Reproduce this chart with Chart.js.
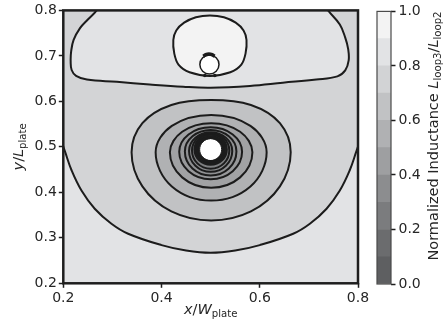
<!DOCTYPE html>
<html>
<head>
<meta charset="utf-8">
<script src="https://cdn.jsdelivr.net/npm/chart.js@4"></script>
<style>
  html, body { margin: 0; padding: 0; background: #fff; }
  #wrap { position: relative; width: 447px; height: 329px; }
  #wrap canvas { position: absolute; left: 0; top: 0; }
</style>
</head>
<body>
<div id="wrap">
  <canvas id="plot" width="447" height="329"></canvas>
  <canvas id="cbar" width="447" height="329"></canvas>
</div>
<script>

// tick labels
var xTicks = [0.2, 0.4, 0.6, 0.8];
var yTicks = [0.2, 0.3, 0.4, 0.5, 0.6, 0.7, 0.8];
var cbTicks = [0.0, 0.2, 0.4, 0.6, 0.8, 1.0];

// colour bar bands (normalized inductance levels)
var levels = [0.0, 0.1, 0.2, 0.3, 0.4, 0.5, 0.6, 0.7, 0.8, 0.9, 1.0];
var levelColors = ["#5e5f61", "#6b6c6e", "#7b7c7e", "#8c8d8f", "#9e9fa1",
                   "#b0b1b3", "#c1c2c4", "#d2d3d5", "#e2e3e5", "#f3f3f3"];

// contour lines, [x/W, y/L]
// 0.8 level, lower arc (runs out of the frame to close the region)
var edge08Lower = [[0.15,0.62],[0.19,0.53],[0.203,0.491],[0.217,0.448],[0.237,0.404],[0.264,0.364],
  [0.298,0.331],[0.332,0.309],[0.40,0.284],[0.45,0.272],[0.5,0.267],[0.55,0.272],[0.60,0.284],
  [0.668,0.309],[0.702,0.331],[0.736,0.364],[0.763,0.404],[0.783,0.448],[0.797,0.491],[0.81,0.53],
  [0.85,0.62],[0.9,0.95],[0.1,0.95]];
// 0.8 level, upper pocket
var edge08Upper = [[0.285,0.83],[0.268,0.8],[0.250,0.78],[0.234,0.761],[0.221,0.735],[0.216,0.71],
  [0.215,0.688],[0.217,0.669],[0.226,0.656],[0.248,0.648],[0.309,0.643],[0.376,0.637],[0.444,0.632],
  [0.5,0.630],[0.58,0.634],[0.647,0.641],[0.715,0.648],[0.758,0.655],[0.774,0.668],[0.781,0.69],
  [0.780,0.715],[0.774,0.74],[0.763,0.769],[0.739,0.8],[0.72,0.83],[0.5,0.92]];
// 0.9 level
var loop09 = [[0.4985,0.789],[0.527,0.785],[0.551,0.773],[0.567,0.756],[0.573,0.735],[0.571,0.705],
  [0.5625,0.681],[0.540,0.664],[0.4985,0.656],[0.457,0.664],[0.4345,0.681],[0.426,0.705],[0.424,0.735],
  [0.430,0.756],[0.446,0.773],[0.470,0.785]];
// small loop (blank) inside the 0.9 level
var hole09 = [[0.4975,0.702],[0.5113,0.6958],[0.517,0.681],[0.5113,0.6662],[0.4975,0.660],
  [0.4837,0.6662],[0.478,0.681],[0.4837,0.6958]];
var hole09Cap = [[0.485,0.699],[0.490,0.7025],[0.4965,0.704],[0.503,0.7025],[0.508,0.699]];
var hole09Dots = [[0.4882,0.657],[0.5085,0.657]];
// rings around the centre
var ring07 = [[0.501,0.603],[0.582,0.592],[0.641,0.552],[0.663,0.488],[0.641,0.413],[0.582,0.358],
  [0.501,0.338],[0.420,0.358],[0.361,0.413],[0.339,0.488],[0.361,0.552],[0.420,0.592]];
var ring06 = [[0.501,0.570],[0.581,0.546],[0.614,0.488],[0.581,0.413],[0.501,0.382],[0.421,0.413],[0.388,0.488],[0.421,0.546]];
var ring05 = [[0.501,0.552],[0.560,0.5332],[0.585,0.488],[0.560,0.4329],[0.501,0.410],[0.442,0.4329],[0.417,0.488],[0.442,0.5332]];
var ring04 = [[0.500,0.543],[0.545,0.5272],[0.564,0.489],[0.545,0.4466],[0.500,0.429],[0.455,0.4466],[0.436,0.489],[0.455,0.5272]];
var ring03 = [[0.500,0.537],[0.537,0.5232],[0.5525,0.490],[0.537,0.4525],[0.500,0.437],[0.463,0.4525],[0.4475,0.490],[0.463,0.5232]];
var ring02 = [[0.500,0.532],[0.531,0.520],[0.544,0.491],[0.531,0.4585],[0.500,0.445],[0.469,0.4585],[0.456,0.491],[0.469,0.520]];
var ring01 = [[0.500,0.530],[0.527,0.519],[0.538,0.492],[0.527,0.4637],[0.500,0.452],[0.473,0.4637],[0.462,0.492],[0.473,0.519]];
var core1 = [[0.500,0.527],[0.523,0.5173],[0.5325,0.494],[0.523,0.4707],[0.500,0.461],[0.477,0.4707],[0.4675,0.494],[0.477,0.5173]];
var core2 = [[0.500,0.523],[0.5201,0.5145],[0.5285,0.494],[0.5201,0.4735],[0.500,0.465],[0.4799,0.4735],[0.4715,0.494],[0.4799,0.5145]];
var core3 = [[0.500,0.5198],[0.5181,0.5122],[0.5256,0.494],[0.5181,0.4758],[0.500,0.4682],[0.4819,0.4758],[0.4744,0.494],[0.4819,0.5122]];
var holeCentre = [[0.500,0.5181],[0.5158,0.511],[0.5224,0.494],[0.5158,0.477],[0.500,0.4699],[0.4842,0.477],[0.4776,0.494],[0.4842,0.511]];

var ink = "#262626";
var lineInk = "#1c1c1c";
var plotBackground = "#e2e3e5";

function toXY(pts) {
  return pts.map(function (p) { return {x: p[0], y: p[1]}; });
}

function contour(pts, fillColor, width, tension) {
  return {
    data: toXY(pts), closed: true, backgroundColor: fillColor,
    borderColor: lineInk, borderWidth: width || 2, pointRadius: 0,
    tension: tension || 0.375, spanGaps: true, fill: false
  };
}

// text with italic letters and subscripts, drawn on the canvas
function drawRich(ctx, parts, x, y, rot, size) {
  function font(p) {
    return (p.it ? "italic " : "") + (p.sub ? size * 0.7 : size) + "px 'DejaVu Sans'";
  }
  ctx.save();
  ctx.translate(x, y);
  ctx.rotate(rot);
  ctx.fillStyle = ink;
  ctx.textBaseline = "alphabetic";
  ctx.textAlign = "left";
  var w = 0;
  parts.forEach(function (p) { ctx.font = font(p); w += ctx.measureText(p.t).width; });
  var cx = -w / 2;
  parts.forEach(function (p) {
    ctx.font = font(p);
    ctx.fillText(p.t, cx, p.sub ? size * 0.24 : 0);
    cx += ctx.measureText(p.t).width;
  });
  ctx.restore();
}

var contourPlugin = {
  id: "contourFill",
  afterDatasetUpdate: function (chart, args) {
    var ds = chart.data.datasets[args.index];
    if (!ds.closed) return;
    var line = args.meta.dataset;
    line._loop = true;
    line._fullLoop = true;
    delete line._segments;
    line._pointsUpdated = false;
    line._path = undefined;
  },
  beforeDatasetsDraw: function (chart) {
    var ctx = chart.ctx, a = chart.chartArea;
    ctx.save();
    ctx.beginPath();
    ctx.rect(a.left, a.top, a.right - a.left, a.bottom - a.top);
    ctx.clip();
    ctx.fillStyle = plotBackground;
    ctx.fillRect(a.left, a.top, a.right - a.left, a.bottom - a.top);
    chart.data.datasets.forEach(function (ds, i) {
      if (!ds.closed) return;
      var line = chart.getDatasetMeta(i).dataset;
      line.updateControlPoints(a, "x");
      ctx.beginPath();
      line.path(ctx);
      ctx.closePath();
      ctx.fillStyle = ds.backgroundColor;
      ctx.fill();
    });
    ctx.restore();
  },
  afterDraw: function (chart) {
    var ctx = chart.ctx, a = chart.chartArea;
    ctx.save();
    ctx.strokeStyle = "#1e1e1e";
    ctx.lineWidth = 2.5;
    ctx.strokeRect(a.left, a.top, a.right - a.left, a.bottom - a.top);
    ctx.restore();
    drawRich(ctx, [{t: "x", it: 1}, {t: "/"}, {t: "W", it: 1}, {t: "plate", sub: 1}],
      (a.left + a.right) / 2, 314, 0, 14.5);
    drawRich(ctx, [{t: "y", it: 1}, {t: "/"}, {t: "L", it: 1}, {t: "plate", sub: 1}],
      23, (a.top + a.bottom) / 2, -Math.PI / 2, 14.5);
  }
};

Chart.defaults.font.family = "'DejaVu Sans'";
Chart.defaults.color = ink;

var datasets = [
  contour(edge08Lower, "#d3d4d6", 2, 0.4),
  contour(edge08Upper, "#e2e3e5", 2, 0.4),
  contour(loop09, "#f3f3f3", 2, 0.35),
  contour(hole09, "#ffffff", 1.5),
  contour(ring07, "#c1c2c4", 2, 0.35),
  contour(ring06, "#b0b1b3"),
  contour(ring05, "#a1a2a4"),
  contour(ring04, "#97989a"),
  contour(ring03, "#8f9092"),
  contour(ring02, "#898a8c"),
  contour(ring01, "#7f8082"),
  contour(core1, "#5a5b5d", 2.5),
  contour(core2, "#5a5b5d", 2.5),
  contour(core3, "#5a5b5d", 2.5),
  contour(holeCentre, "#ffffff", 1),
  {data: toXY(hole09Cap), borderColor: lineInk, borderWidth: 3.5, pointRadius: 0, tension: 0.4, fill: false},
  {data: toXY(hole09Dots), showLine: false, pointRadius: 1.8, pointBorderWidth: 0,
   pointBackgroundColor: lineInk, borderColor: lineInk}
];

function tickScale(list, fit) {
  return {
    type: "linear", min: list[0], max: list[list.length - 1],
    afterBuildTicks: function (s) { s.ticks = list.map(function (v) { return {value: v}; }); },
    afterFit: fit,
    grid: {drawOnChartArea: false, drawTicks: true, tickLength: 4.5, tickWidth: 1.5, tickColor: "#1e1e1e"},
    border: {display: false},
    ticks: {font: {size: 14}, color: ink, padding: 2, maxRotation: 0,
            callback: function (v) { return Number(v).toFixed(1); }}
  };
}

new Chart(document.getElementById("plot"), {
  type: "line",
  data: {datasets: datasets},
  options: {
    responsive: false, animation: false, devicePixelRatio: 1, events: [],
    layout: {padding: {left: 0, right: 89, top: 9, bottom: 0}},
    elements: {line: {capBezierPoints: false}},
    plugins: {legend: {display: false}, tooltip: {enabled: false}},
    scales: {
      x: tickScale(xTicks, function (s) { s.height = 45.7; }),
      y: tickScale(yTicks, function (s) { s.width = 63.3; })
    }
  },
  plugins: [contourPlugin]
});

// colour bar
var cbarPlugin = {
  id: "cbarFrame",
  afterDraw: function (chart) {
    var ctx = chart.ctx, a = chart.chartArea;
    ctx.save();
    ctx.strokeStyle = "#4a4a4a";
    ctx.lineWidth = 1.2;
    ctx.strokeRect(a.left, a.top, a.right - a.left, a.bottom - a.top);
    ctx.restore();
    drawRich(ctx, [{t: "Normalized Inductance "}, {t: "L", it: 1}, {t: "loop3", sub: 1},
                   {t: "/"}, {t: "L", it: 1}, {t: "loop2", sub: 1}],
      438, 136, -Math.PI / 2, 14.5);
  }
};

var cbScale = tickScale(cbTicks, function (s) { s.width = 56; });
cbScale.position = "right";
cbScale.ticks.padding = 3;

new Chart(document.getElementById("cbar"), {
  type: "bar",
  data: {
    labels: [""],
    datasets: levelColors.map(function (c, i) {
      return {data: [[levels[i], levels[i + 1]]], backgroundColor: c, borderWidth: 0,
              barPercentage: 1, categoryPercentage: 1, grouped: false};
    })
  },
  options: {
    responsive: false, animation: false, devicePixelRatio: 1, events: [],
    layout: {padding: {left: 377, right: 0, top: 8, bottom: 45}},
    plugins: {legend: {display: false}, tooltip: {enabled: false}},
    scales: {x: {display: false}, y: cbScale}
  },
  plugins: [cbarPlugin]
});
</script>
</body>
</html>
